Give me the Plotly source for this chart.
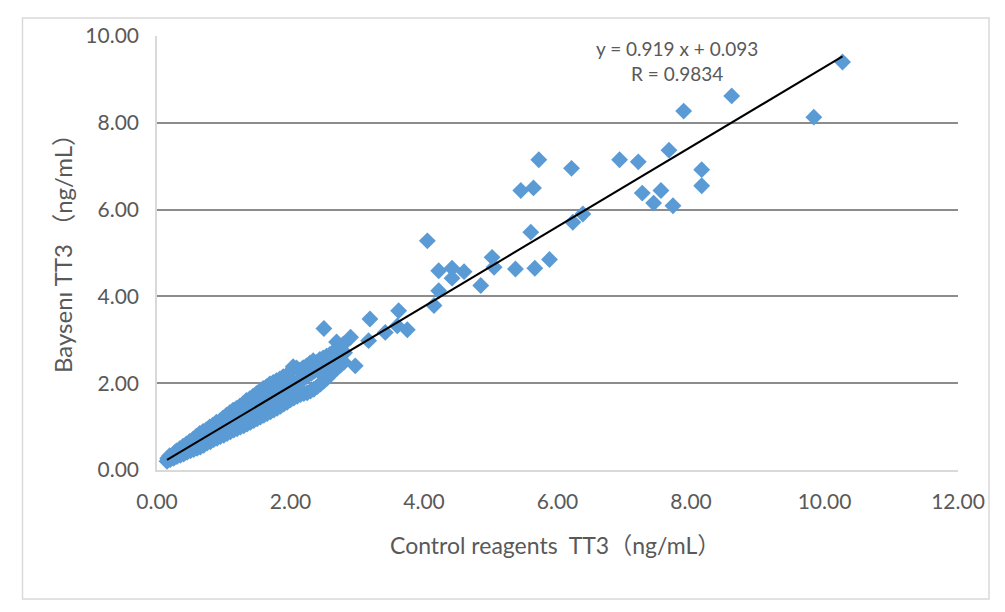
import plotly.graph_objects as go

# Outlying / sparse points (Control reagents TT3, Baysen TT3)
sparse_x = [10.27, 9.84, 8.61, 7.89, 7.67, 8.16, 8.16, 6.93, 7.21, 7.27, 7.55, 7.44, 7.73,
            6.21, 5.72, 5.45, 5.64, 6.23, 6.38, 4.05, 5.60, 5.02, 5.05, 5.37, 5.66, 5.88,
            4.22, 4.42, 4.60, 4.42, 4.22, 4.85, 4.15, 3.62, 3.42, 3.75, 3.60, 2.50, 3.19,
            3.17, 2.97, 2.90]
sparse_y = [9.40, 8.13, 8.62, 8.27, 7.37, 6.92, 6.55, 7.15, 7.10, 6.38, 6.44, 6.15, 6.09,
            6.95, 7.15, 6.44, 6.50, 5.71, 5.90, 5.28, 5.48, 4.90, 4.67, 4.63, 4.65, 4.85,
            4.59, 4.65, 4.57, 4.42, 4.13, 4.25, 3.79, 3.67, 3.17, 3.23, 3.32, 3.26, 3.48,
            2.98, 2.40, 3.06]

# Dense low-range cluster
dense_x = [0.15, 0.17, 0.16, 0.20, 0.21, 0.19, 0.25, 0.24, 0.26, 0.30, 0.31, 0.29,
           0.35, 0.36, 0.34, 0.40, 0.41, 0.39, 0.45, 0.46, 0.44, 0.50, 0.51, 0.49,
           0.55, 0.56, 0.54, 0.60, 0.61, 0.59, 0.65, 0.66, 0.64, 0.70, 0.71, 0.69,
           0.75, 0.76, 0.74, 0.80, 0.81, 0.79, 0.85, 0.86, 0.84, 0.90, 0.91, 0.89,
           0.95, 0.96, 0.94, 1.00, 1.01, 0.99, 1.05, 1.06, 1.04, 1.10, 1.11, 1.09,
           1.15, 1.16, 1.14, 1.20, 1.21, 1.19, 1.25, 1.26, 1.24, 1.30, 1.31, 1.29,
           1.35, 1.36, 1.34, 1.40, 1.41, 1.39, 1.45, 1.46, 1.44, 1.50, 1.51, 1.49,
           1.55, 1.56, 1.54, 1.60, 1.61, 1.59, 1.65, 1.66, 1.64, 1.70, 1.71, 1.69,
           1.75, 1.76, 1.74, 1.80, 1.81, 1.79, 1.85, 1.86, 1.84, 1.90, 1.91, 1.89,
           1.95, 1.96, 1.94, 2.00, 2.01, 1.99, 2.05, 2.06, 2.04, 2.10, 2.11, 2.09,
           2.15, 2.16, 2.14, 2.20, 2.21, 2.19, 2.25, 2.26, 2.24, 2.30, 2.31, 2.29,
           2.35, 2.36, 2.34, 2.40, 2.41, 2.39, 2.45, 2.46, 2.44, 2.50, 2.51, 2.49,
           2.55, 2.56, 2.54, 2.60, 2.61, 2.59, 2.65, 2.66, 2.64, 2.70, 2.71, 2.69,
           2.75, 2.76, 2.74, 2.80, 2.81, 2.79]
dense_y = [0.20, 0.24, 0.27, 0.24, 0.30, 0.33, 0.27, 0.33, 0.39, 0.31, 0.38, 0.44,
           0.34, 0.42, 0.49, 0.37, 0.47, 0.55, 0.41, 0.50, 0.60, 0.44, 0.56, 0.66,
           0.47, 0.59, 0.71, 0.50, 0.65, 0.78, 0.53, 0.70, 0.84, 0.57, 0.73, 0.89,
           0.62, 0.79, 0.93, 0.65, 0.84, 0.99, 0.70, 0.88, 1.04, 0.73, 0.91, 1.10,
           0.77, 0.98, 1.13, 0.80, 1.03, 1.20, 0.84, 1.05, 1.26, 0.88, 1.12, 1.32,
           0.92, 1.16, 1.38, 0.95, 1.21, 1.42, 0.99, 1.25, 1.47, 1.02, 1.30, 1.53,
           1.06, 1.35, 1.60, 1.10, 1.39, 1.64, 1.14, 1.44, 1.70, 1.18, 1.49, 1.76,
           1.22, 1.53, 1.82, 1.26, 1.58, 1.88, 1.30, 1.60, 1.92, 1.34, 1.67, 1.98,
           1.38, 1.72, 2.02, 1.42, 1.76, 2.06, 1.47, 1.80, 2.10, 1.52, 1.86, 2.15,
           1.56, 1.90, 2.18, 1.62, 1.95, 2.25, 1.66, 1.99, 2.38, 1.70, 2.04, 2.35,
           1.74, 2.08, 2.30, 1.76, 2.12, 2.36, 1.78, 2.18, 2.40, 1.82, 2.22, 2.46,
           1.86, 2.28, 2.52, 1.92, 2.30, 2.48, 1.98, 2.36, 2.55, 2.05, 2.40, 2.58,
           2.12, 2.45, 2.62, 2.20, 2.50, 2.66, 2.28, 2.52, 2.72, 2.35, 2.60, 2.95,
           2.42, 2.65, 2.80, 2.48, 2.70, 2.90]

# Linear trendline reported on the chart
slope = 0.919
intercept = 0.093
r_value = 0.9834
trend_x = [0.15, 10.27]

x_ticks = [0, 2, 4, 6, 8, 10, 12]
y_ticks = [0, 2, 4, 6, 8, 10]

all_x = dense_x + sparse_x
all_y = dense_y + sparse_y
trend_y = [slope * v + intercept for v in trend_x]

FONT = "Lato, 'Noto Sans CJK SC', sans-serif"
TXT = "#595959"

# page offset (body margin) compensation
OFF = 8
PL, PR, PT, PB = 157, 958, 36, 470   # plot area in page pixels
PW, PH = PR - PL, PB - PT


def px(xp):
    return (xp - PL) / PW


def py(yp):
    return (PB - yp) / PH


fig = go.Figure()
fig.add_trace(go.Scatter(
    x=all_x, y=all_y, mode="markers",
    marker=dict(symbol="diamond", size=13, color="#5b9bd5", line=dict(width=0)),
    showlegend=False, hoverinfo="x+y"))
fig.add_trace(go.Scatter(
    x=trend_x, y=trend_y, mode="lines",
    line=dict(color="black", width=2), showlegend=False, hoverinfo="skip"))

W, H = 1005 - OFF, 612 - OFF
fig.update_layout(
    width=W, height=H,
    margin=dict(l=PL - OFF, r=W - (PR - OFF), t=PT - OFF, b=H - (PB - OFF)),
    paper_bgcolor="white", plot_bgcolor="white",
    font=dict(family=FONT, color=TXT),
    xaxis=dict(range=[0, 12], tickvals=x_ticks, ticktext=[f"{v:.2f}" for v in x_ticks],
               showgrid=False, zeroline=False, showline=True, linecolor="#d9d9d9",
               linewidth=1.5, ticks="", tickfont=dict(size=21, color=TXT),
               ticklabelstandoff=12),
    yaxis=dict(range=[0, 10], tickvals=y_ticks, ticktext=[f"{v:.2f}" for v in y_ticks],
               showgrid=True, gridcolor="#8c8c8c", gridwidth=1.5, zeroline=False,
               showline=True, linecolor="#d9d9d9", linewidth=1.5, ticks="",
               tickfont=dict(size=21, color=TXT), ticklabelstandoff=12),
    shapes=[dict(type="rect", xref="paper", yref="paper",
                 x0=px(22.5), x1=px(989), y0=py(599), y1=py(18),
                 line=dict(color="#d9d9d9", width=1.5), layer="below")],
    annotations=[
        dict(text="Control reagents  TT3（ng/mL）", xref="paper", yref="paper",
             x=px(555), y=py(545), showarrow=False,
             font=dict(size=23, color=TXT), xanchor="center", yanchor="middle"),
        dict(text="Baysenı TT3 （ng/mL）", xref="paper", yref="paper",
             x=px(62), y=py(248), showarrow=False, textangle=-90,
             font=dict(size=24, color=TXT), xanchor="center", yanchor="middle"),
        dict(text=f"y = {slope} x + {intercept}", xref="paper", yref="paper",
             x=px(677), y=py(48), showarrow=False,
             font=dict(size=19, color=TXT), xanchor="center", yanchor="middle"),
        dict(text=f"R = {r_value}", xref="paper", yref="paper",
             x=px(677), y=py(73), showarrow=False,
             font=dict(size=19, color=TXT), xanchor="center", yanchor="middle"),
    ],
)

fig.write_html("out.html")
